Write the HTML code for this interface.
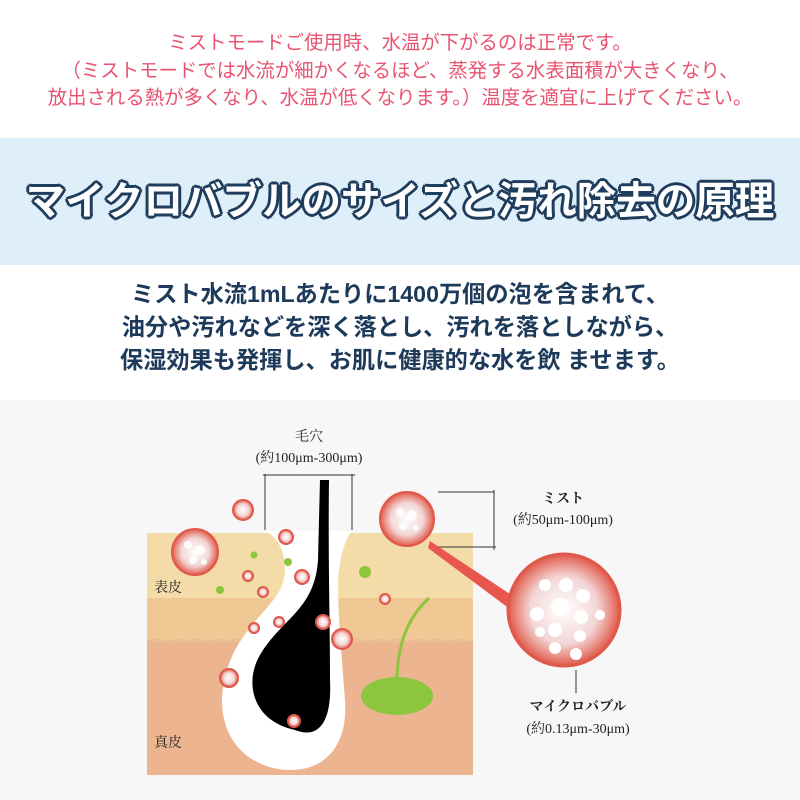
<!DOCTYPE html>
<html><head><meta charset="utf-8"><style>
body{margin:0;width:800px;height:800px;overflow:hidden;background:#fff;font-family:"Liberation Sans","Noto Sans CJK JP",sans-serif;position:relative}
.top{position:absolute;top:30px;left:0;width:800px;text-align:center;color:#e8546f;font-size:19.4px;line-height:27.5px;white-space:nowrap}
.band{position:absolute;top:138px;left:0;width:800px;height:127px;background:#dfeff9}
.title{position:absolute;top:178px;left:0;width:800px;text-align:center;font-size:39.5px;line-height:48px;font-weight:bold;color:#fff;white-space:nowrap;
 text-shadow:2px 0 #1f3d5c,-2px 0 #1f3d5c,0 2px #1f3d5c,0 -2px #1f3d5c,2px 2px #1f3d5c,-2px -2px #1f3d5c,2px -2px #1f3d5c,-2px 2px #1f3d5c,3px 0 #1f3d5c,0 3px #1f3d5c,-3px 0 #1f3d5c,0 -3px #1f3d5c}
.body{position:absolute;top:278px;left:0;width:800px;text-align:center;color:#1e3a5a;font-size:23.2px;font-weight:bold;line-height:33px;white-space:nowrap}
.diag{position:absolute;top:400px;left:0;width:800px;height:400px;background:#f7f7f7}
</style></head><body>
<div class="top">ミストモードご使用時、水温が下がるのは正常です。<br>（ミストモードでは水流が細かくなるほど、蒸発する水表面積が大きくなり、<br>放出される熱が多くなり、水温が低くなります。）温度を適宜に上げてください。</div>
<div class="band"></div>
<div class="title">マイクロバブルのサイズと汚れ除去の原理</div>
<div class="body">ミスト水流1mLあたりに1400万個の泡を含まれて、<br>油分や汚れなどを深く落とし、汚れを落としながら、<br>保湿効果も発揮し、お肌に健康的な水を飲 ませます。</div>
<div class="diag"></div>
<svg style="position:absolute;left:0;top:0" width="800" height="800" font-family="Liberation Serif,Noto Serif CJK SC,serif">
<defs>
<radialGradient id="b" cx="50%" cy="50%" r="50%"><stop offset="0" stop-color="#fff"/><stop offset="0.6" stop-color="#f3d6d6"/><stop offset="0.85" stop-color="#e88a80"/><stop offset="1" stop-color="#e0584a"/></radialGradient>
</defs>
<rect x="147" y="533" width="326" height="242" fill="#ecb58f"/>
<rect x="147" y="533" width="326" height="65" fill="#f4dca8"/>
<rect x="147" y="598" width="326" height="44" fill="#efc894"/>
<path d="M147 642 q10 -4 20 0 q10 -4 20 0 q10-4 20 0 q10-4 20 0 q10-4 20 0 q10-4 20 0 q10-4 20 0 q10-4 20 0 q10-4 20 0 q10-4 20 0 q10-4 20 0 q10-4 20 0 q10-4 20 0 q10-4 20 0 q10-4 20 0 q10-4 20 0 L473 642" fill="none" stroke="#e9bb90" stroke-width="2"/>
<path d="M265 531 C285 540 290 570 280 590 C262 620 225 640 222 700 C222 750 260 770 290 770 C330 770 348 740 345 700 C342 660 338 620 338 580 C340 555 345 540 352 531 Z" fill="#fff"/>
<path d="M320 480 L329 480 C328 560 330 620 330 680 C332 720 320 740 295 730 C250 720 245 680 260 655 C280 620 315 610 318 560 Z" fill="#000"/>
<g stroke="#333" stroke-width="1" fill="none">
<line x1="265" y1="474" x2="265" y2="530"/><line x1="352" y1="474" x2="352" y2="530"/><line x1="263" y1="475" x2="355" y2="475"/>
<line x1="438" y1="492" x2="494" y2="492"/><line x1="494" y1="490" x2="494" y2="550"/><line x1="438" y1="547" x2="496" y2="547"/>
<line x1="576" y1="670" x2="576" y2="693"/>
</g>
<path d="M430 541 L528 606 L522 618 L428 548Z" fill="#e8574d"/>
<path d="M429 598 C405 620 396 650 397 690" stroke="#8cc63f" stroke-width="3" fill="none"/>
<ellipse cx="397" cy="696" rx="36" ry="19" fill="#8cc63f"/>
<g fill="#8cc63f"><circle cx="254" cy="555" r="3.5"/><circle cx="288" cy="562" r="4"/><circle cx="220" cy="590" r="4"/><circle cx="365" cy="572" r="6"/></g>
<g stroke="#e0584a" stroke-width="2" fill="url(#b)">
<circle cx="243" cy="510" r="10"/><circle cx="195" cy="552" r="23"/><circle cx="407" cy="519" r="27"/>
<circle cx="286" cy="537" r="7"/><circle cx="248" cy="576" r="5"/><circle cx="302" cy="577" r="7"/><circle cx="263" cy="592" r="5"/>
<circle cx="385" cy="599" r="5"/><circle cx="254" cy="628" r="5"/><circle cx="279" cy="622" r="5"/><circle cx="323" cy="622" r="7"/>
<circle cx="342" cy="639" r="10"/><circle cx="229" cy="678" r="9"/><circle cx="294" cy="721" r="6"/>
<circle cx="564" cy="610" r="56" stroke-width="3"/>
</g>
<g fill="#fff" opacity="0.9"><circle cx="188" cy="545" r="4"/><circle cx="200" cy="550" r="5"/><circle cx="193" cy="560" r="4"/><circle cx="204" cy="562" r="3"/>
<circle cx="400" cy="512" r="4"/><circle cx="412" cy="515" r="5"/><circle cx="403" cy="526" r="4"/><circle cx="416" cy="528" r="3"/></g>
<g fill="#fff"><circle cx="545" cy="585" r="6"/><circle cx="566" cy="585" r="7"/><circle cx="583" cy="596" r="7"/><circle cx="560" cy="607" r="9"/><circle cx="537" cy="614" r="7"/><circle cx="581" cy="617" r="7"/><circle cx="555" cy="630" r="7"/><circle cx="580" cy="636" r="6"/><circle cx="600" cy="615" r="5"/><circle cx="555" cy="648" r="6"/><circle cx="576" cy="654" r="6"/><circle cx="540" cy="632" r="5"/></g>
<g fill="#222" font-size="14" text-anchor="middle">
<text x="309" y="441">毛穴</text><text x="309" y="462">(約100μm-300μm)</text>
<text x="563" y="503" font-weight="bold">ミスト</text><text x="563" y="524">(約50μm-100μm)</text>
<text x="578" y="711" font-weight="bold">マイクロバブル</text><text x="578" y="733">(約0.13μm-30μm)</text>
<text x="168" y="592">表皮</text><text x="168" y="747">真皮</text>
</g>
</svg>
</body></html>
